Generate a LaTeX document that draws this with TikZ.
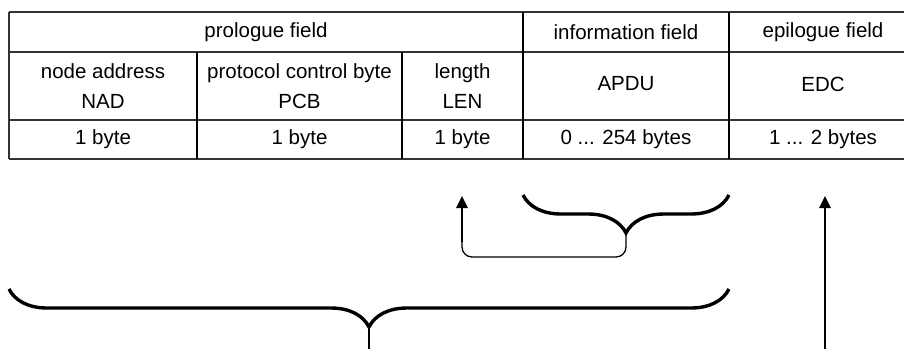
\documentclass[tikz,border=0pt]{standalone}
\usepackage{fontspec}
\setmainfont{Liberation Sans}
\usetikzlibrary{decorations.pathreplacing,arrows.meta,calc}

\begin{document}
\begin{tikzpicture}[x=1pt,y=-1pt,
  cell/.style={inner sep=0pt, align=center, font=\fontsize{20.5}{30}\selectfont},
  rowrule/.style={line width=1.7pt, draw=black!80},
  colrule/.style={line width=2.4pt, draw=black},
  fieldbrace/.style={decorate, decoration={brace, amplitude=38pt}, line width=3.4pt},
  link/.style={line width=1.3pt, rounded corners=10pt},
  thinlink/.style={line width=1.3pt},
  uparrow/.style={line width=2.6pt, -{Triangle[width=11pt,length=12pt]}},
]
\useasboundingbox (0,0) rectangle (904,349);

% table rules
\draw[rowrule] (9,12) -- (904,12);
\draw[rowrule] (9,52) -- (904,52);
\draw[rowrule] (9,120) -- (904,120);
\draw[rowrule] (9,159) -- (904,159);
\draw[rowrule] (9,12) -- (9,159);
\draw[colrule] (197,52) -- (197,159);
\draw[colrule] (402,52) -- (402,159);
\draw[colrule] (523,12) -- (523,159);
\draw[colrule] (729,12) -- (729,159);

% field headings
\node[cell] (prologue) at (266,32) {prologue field};
\node[cell] (info) at (626,32) {information field};
\node[cell] (epilogue) at (823,32) {epilogue field};

% element names
\node[cell] (nad) at (103,86) {node address\\NAD};
\node[cell] (pcb) at (299.5,86) {protocol control byte\\PCB};
\node[cell] (len) at (462.5,86) {length\\LEN};
\node[cell] (apdu) at (626,84) {APDU};
\node[cell] (edc) at (823,84) {EDC};

% sizes
\node[cell] (nadsize) at (103,139) {1 byte};
\node[cell] (pcbsize) at (299.5,139) {1 byte};
\node[cell] (lensize) at (462.5,139) {1 byte};
\node[cell] (apdusize) at (626,139) {0 ... 254 bytes};
\node[cell] (edcsize) at (823,139) {1 ... 2 bytes};

% brace over the information field, linked to the length byte
\coordinate (infoL) at (523,195);
\coordinate (infoR) at (729,195);
\coordinate (infoTip) at (626,233);
\coordinate (infoCorner) at (626,257);
\coordinate (lenTurn) at (462,257);
\coordinate (lenRise) at (462,242);
\coordinate (lenHead) at (462,196);
\draw[fieldbrace] (infoR) -- (infoL);
\draw[link] (infoTip) -- (infoCorner) -- (lenTurn) -- (lenRise);
\draw[uparrow] (lenRise) -- (lenHead);

% brace over prologue and information fields
\coordinate (frameL) at (9,289);
\coordinate (frameR) at (729,289);
\coordinate (frameTip) at (369,327);
\coordinate (frameFoot) at (369,349);
\draw[fieldbrace] (frameR) -- (frameL);
\draw[thinlink] (frameTip) -- (frameFoot);

% arrow up to the epilogue field
\coordinate (edcFoot) at (825,349);
\coordinate (edcHead) at (825,196);
\draw[uparrow] (edcFoot) -- (edcHead);
\end{tikzpicture}
\end{document}
